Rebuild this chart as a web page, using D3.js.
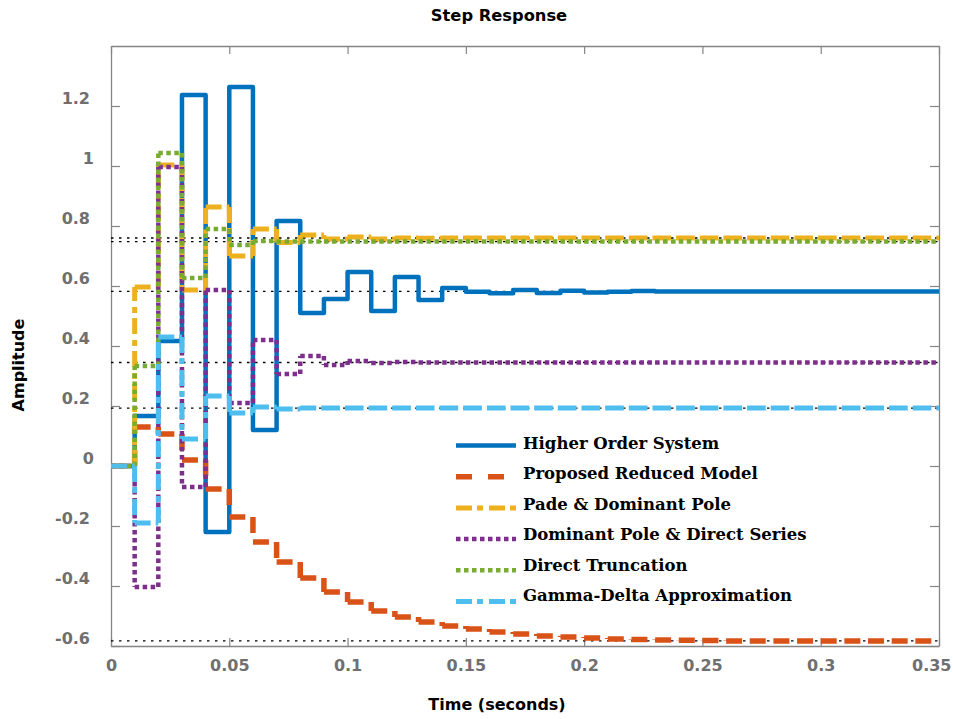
<!DOCTYPE html>
<html>
<head>
<meta charset="utf-8">
<script src="https://cdn.jsdelivr.net/npm/d3@7"></script>
<style>
  body { margin: 0; background: #fff; }
  svg { display: block; }
</style>
</head>
<body>
<svg id="chart" width="953" height="719"></svg>
<script>
// Discrete step responses, sampled every 0.01 s from t = 0 to t = 0.35
const sampleTime = 0.01;

const seriesNames = [
  "Higher Order System",
  "Proposed Reduced Model",
  "Pade & Dominant Pole",
  "Dominant Pole & Direct Series",
  "Direct Truncation",
  "Gamma-Delta Approximation"
];

const higherOrder = [0, 0.167, 0.417, 1.237, -0.22, 1.263, 0.12, 0.817, 0.51, 0.557,
  0.647, 0.517, 0.63, 0.553, 0.593, 0.581, 0.576, 0.587, 0.577, 0.584,
  0.578, 0.581, 0.583, 0.582, 0.582, 0.582, 0.582, 0.582, 0.582, 0.582,
  0.582, 0.582, 0.582, 0.582, 0.582, 0.582];

const proposedModel = [0, 0.13, 0.107, 0.02, -0.077, -0.17, -0.253, -0.32, -0.373, -0.42,
  -0.453, -0.483, -0.503, -0.52, -0.533, -0.543, -0.553, -0.56, -0.567, -0.57,
  -0.573, -0.577, -0.578, -0.58, -0.581, -0.582, -0.583, -0.583, -0.583, -0.583,
  -0.583, -0.583, -0.583, -0.583, -0.583, -0.583];

const padeDominant = [0, 0.597, 1.003, 0.587, 0.863, 0.70, 0.79, 0.745, 0.77, 0.757,
  0.763, 0.757, 0.76, 0.759, 0.76, 0.76, 0.76, 0.76, 0.76, 0.76,
  0.76, 0.76, 0.76, 0.76, 0.76, 0.76, 0.76, 0.76, 0.76, 0.76,
  0.76, 0.76, 0.76, 0.76, 0.76, 0.76];

const dominantSeries = [0, -0.403, 0.997, -0.07, 0.587, 0.21, 0.42, 0.307, 0.367, 0.337,
  0.35, 0.343, 0.347, 0.345, 0.345, 0.345, 0.345, 0.345, 0.345, 0.345,
  0.345, 0.345, 0.345, 0.345, 0.345, 0.345, 0.345, 0.345, 0.345, 0.345,
  0.345, 0.345, 0.345, 0.345, 0.345, 0.345];

const directTruncation = [0, 0.333, 1.043, 0.627, 0.79, 0.737, 0.75, 0.748, 0.748, 0.748,
  0.748, 0.748, 0.748, 0.748, 0.748, 0.748, 0.748, 0.748, 0.748, 0.748,
  0.748, 0.748, 0.748, 0.748, 0.748, 0.748, 0.748, 0.748, 0.748, 0.748,
  0.748, 0.748, 0.748, 0.748, 0.748, 0.748];

const gammaDelta = [0, -0.19, 0.43, 0.09, 0.233, 0.177, 0.197, 0.19, 0.193, 0.193,
  0.193, 0.193, 0.193, 0.193, 0.193, 0.193, 0.193, 0.193, 0.193, 0.193,
  0.193, 0.193, 0.193, 0.193, 0.193, 0.193, 0.193, 0.193, 0.193, 0.193,
  0.193, 0.193, 0.193, 0.193, 0.193, 0.193];

// Final (steady-state) value of each response
const steadyStateValues = [0.582, -0.583, 0.76, 0.345, 0.748, 0.193];

const xTickValues = [0, 0.05, 0.1, 0.15, 0.2, 0.25, 0.3, 0.35];
const xTickLabels = ["0", "0.05", "0.1", "0.15", "0.2", "0.25", "0.3", "0.35"];
const yTickValues = [-0.6, -0.4, -0.2, 0, 0.2, 0.4, 0.6, 0.8, 1, 1.2];
const yTickLabels = ["-0.6", "-0.4", "-0.2", "0", "0.2", "0.4", "0.6", "0.8", "1", "1.2"];

// ---- styling ----
const seriesData = [higherOrder, proposedModel, padeDominant, dominantSeries, directTruncation, gammaDelta];
const colors = ["#0072BD", "#D95319", "#EDB120", "#7E2F8E", "#77AC30", "#4DBEEE"];
const widths = [4.5, 5.5, 5, 4.5, 4.5, 5];
const dashes = [null, "16,16", "16,5,6,6", "4.5,3.5", "4.5,3.5", "16,5,6,6"];

const svg = d3.select("#chart");
const plotLeft = 111, plotRight = 939, plotTop = 46, plotBottom = 646;

const x = d3.scaleLinear().domain([0, 0.35]).range([plotLeft, plotRight]);
const y = d3.scaleLinear().domain([-0.6, 1.4]).range([plotBottom, plotTop]);

const tickFont = "'DejaVu Sans', Verdana, sans-serif";
const axisGrey = "#858585";

// ---- axes (inward ticks on all four sides) ----
function styleAxis(g) {
  g.attr("font-family", tickFont).attr("font-size", 16).attr("font-weight", "bold");
  g.select(".domain").attr("stroke", axisGrey).attr("stroke-width", 1.3);
  g.selectAll(".tick line").attr("stroke", axisGrey).attr("stroke-width", 1.2);
  g.selectAll(".tick text").attr("fill", "#6f6f6f");
}

svg.append("g")
  .attr("transform", `translate(0,${plotBottom})`)
  .call(d3.axisBottom(x).tickValues(xTickValues).tickFormat((d, i) => xTickLabels[i])
    .tickSizeInner(-8).tickSizeOuter(0).tickPadding(14))
  .call(styleAxis)
  // keep the last label inside the figure
  .call(g => g.selectAll(".tick text").filter((d, i, n) => i === n.length - 1)
    .attr("text-anchor", "end").attr("x", 12));

svg.append("g")
  .attr("transform", `translate(0,${plotTop})`)
  .call(d3.axisTop(x).tickValues(xTickValues).tickFormat("")
    .tickSizeInner(-8).tickSizeOuter(0))
  .call(styleAxis);

svg.append("g")
  .attr("transform", `translate(${plotLeft},0)`)
  .call(d3.axisLeft(y).tickValues(yTickValues).tickFormat((d, i) => yTickLabels[i])
    .tickSizeInner(-9).tickSizeOuter(0).tickPadding(21))
  .call(styleAxis)
  .call(g => g.selectAll(".tick text").attr("dy", "-0.15em")
    .filter(function () { return this.textContent.length === 1; }).attr("x", -17));

svg.append("g")
  .attr("transform", `translate(${plotRight},0)`)
  .call(d3.axisRight(y).tickValues(yTickValues).tickFormat("")
    .tickSizeInner(-9).tickSizeOuter(0))
  .call(styleAxis);

// ---- stair-step paths; each segment is its own subpath so dash patterns restart at every step ----
function stairSegments(values) {
  let d = "";
  for (let i = 0; i < values.length - 1; i++) {
    const x0 = x(i * sampleTime), x1 = x((i + 1) * sampleTime);
    const y0 = y(values[i]), y1 = y(values[i + 1]);
    d += `M${x0},${y0}L${x1},${y0}`;
    if (values[i + 1] !== values[i]) d += `M${x1},${y0}L${x1},${y1}`;
  }
  return d;
}

function stairContinuous(values) {
  const pts = [];
  for (let i = 0; i < values.length; i++) {
    const t = i * sampleTime;
    if (i > 0) pts.push([x(t), y(values[i - 1])]);
    pts.push([x(t), y(values[i])]);
  }
  return d3.line()(pts);
}

// steady-state reference lines
const refG = svg.append("g");
refG.selectAll("line")
  .data(steadyStateValues)
  .join("line")
  .attr("x1", plotLeft).attr("x2", plotRight)
  .attr("y1", d => y(d)).attr("y2", d => y(d))
  .attr("stroke", "#000").attr("stroke-width", 1.3)
  .attr("stroke-dasharray", "2.5,5.5");

const curves = svg.append("g");
seriesData.forEach((vals, k) => {
  curves.append("path")
    .attr("d", dashes[k] ? stairSegments(vals) : stairContinuous(vals))
    .attr("fill", "none")
    .attr("stroke", colors[k])
    .attr("stroke-width", widths[k])
    .attr("stroke-linejoin", "round")
    .attr("stroke-dasharray", dashes[k]);
});

// ---- legend ----
const legend = svg.append("g");
seriesNames.forEach((name, i) => {
  const ly = 445.5 + i * 31.2;
  legend.append("line")
    .attr("x1", 456).attr("x2", 516)
    .attr("y1", ly).attr("y2", ly)
    .attr("stroke", colors[i])
    .attr("stroke-width", widths[i])
    .attr("stroke-dasharray", dashes[i]);
  legend.append("text")
    .attr("x", 523).attr("y", 449 + i * 30.4)
    .attr("font-family", "'DejaVu Serif', serif")
    .attr("font-weight", "bold")
    .attr("font-size", 16.5)
    .attr("fill", "#000")
    .text(name);
});

// ---- titles ----
svg.append("text")
  .attr("x", 499).attr("y", 20.5)
  .attr("text-anchor", "middle")
  .attr("font-family", tickFont).attr("font-weight", "bold").attr("font-size", 16.3)
  .text("Step Response");

svg.append("text")
  .attr("x", 497).attr("y", 710)
  .attr("text-anchor", "middle")
  .attr("font-family", tickFont).attr("font-weight", "bold").attr("font-size", 16)
  .text("Time (seconds)");

svg.append("text")
  .attr("transform", "translate(24,365) rotate(-90)")
  .attr("text-anchor", "middle")
  .attr("font-family", tickFont).attr("font-weight", "bold").attr("font-size", 16)
  .text("Amplitude");
</script>
</body>
</html>
